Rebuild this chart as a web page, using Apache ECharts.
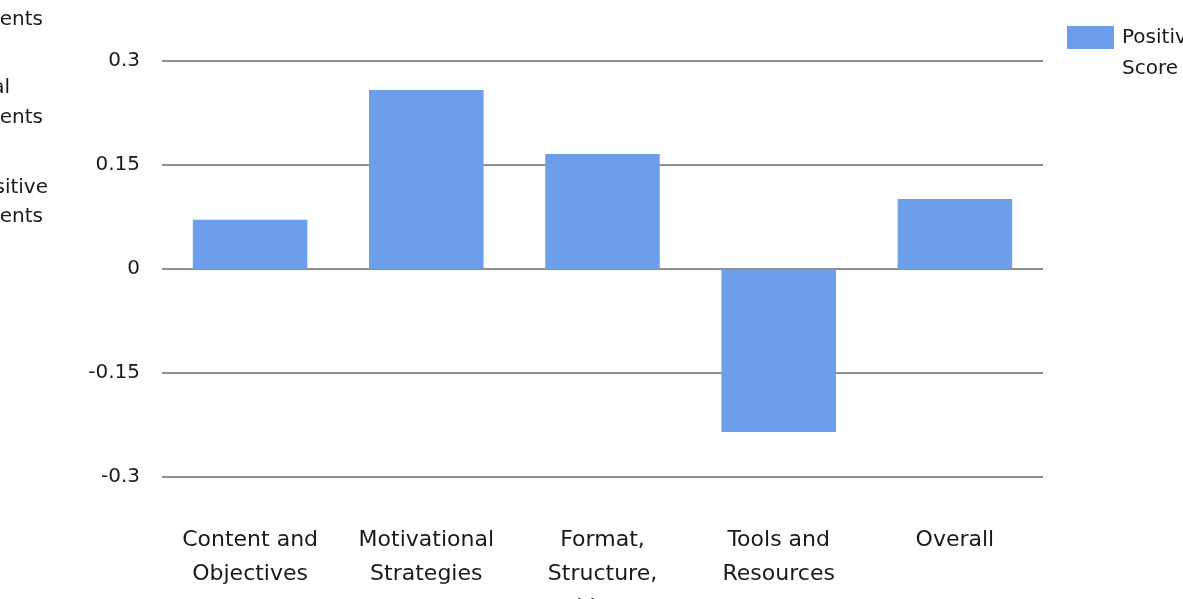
<!DOCTYPE html>
<html>
<head>
<meta charset="utf-8">
<style>
  html, body { margin: 0; padding: 0; background: #fff; }
  #chart { width: 1183px; height: 599px; }
</style>
</head>
<body>
<div id="chart"></div>
<script src="https://cdn.jsdelivr.net/npm/echarts@6/dist/echarts.min.js"></script>
<script>
    // data
    var categories = ['Content and\nObjectives', 'Motivational\nStrategies', 'Format,\nStructure,\nand Layout', 'Tools and\nResources', 'Overall'];
    var scores = [0.071, 0.258, 0.166, -0.235, 0.101];
    var seriesName = 'Positive\nScore';
    // clipped legend of a neighbouring chart on the left edge
    var leftLegendLines = ['Negative', 'Comments', 'Neutral', 'Comments', 'Positive', 'Comments'];

    var font = 'DejaVu Sans';
    var myChart = echarts.init(document.getElementById('chart'));

    var lineY = [-10, 20, 88, 118, 188, 217];
    var lineRight = [26, 43, 10, 43, 48, 43];
    var leftTexts = leftLegendLines.map(function (t, i) {
        return {
            type: 'text',
            x: lineRight[i],
            y: lineY[i],
            style: {
                text: t,
                align: 'right',
                verticalAlign: 'middle',
                fontFamily: font,
                fontSize: 20,
                fill: '#1a1a1a'
            }
        };
    });

    option = {
        animation: false,
        backgroundColor: '#fff',
        textStyle: { fontFamily: font },
        grid: {
            left: 162,
            right: 140,
            top: 61,
            bottom: 122,
            containLabel: false,
            outerBoundsMode: 'none'
        },
        legend: {
            left: 1062,
            top: -14,
            itemWidth: 47,
            itemHeight: 23,
            itemGap: 0,
            icon: 'rect',
            data: [seriesName],
            // leading empty line so the first text line sits level with the swatch
            formatter: function (name) {
                return '\n' + name;
            },
            textStyle: {
                fontFamily: font,
                fontSize: 20,
                color: '#1a1a1a',
                lineHeight: 31,
                padding: [0, 0, 0, 3]
            }
        },
        graphic: leftTexts,
        xAxis: {
            type: 'category',
            data: categories,
            axisLine: { show: false, onZero: false },
            axisTick: { show: false },
            axisLabel: {
                interval: 0,
                margin: 46,
                fontFamily: font,
                fontSize: 22,
                lineHeight: 34,
                color: '#1a1a1a'
            }
        },
        yAxis: {
            type: 'value',
            min: -0.3,
            max: 0.3,
            interval: 0.15,
            axisLine: { show: false },
            axisTick: { show: false },
            axisLabel: {
                margin: 22,
                fontFamily: font,
                fontSize: 20,
                color: '#1a1a1a'
            },
            splitLine: {
                lineStyle: { color: '#8f8f8f', width: 2 }
            }
        },
        series: [
            {
                name: seriesName,
                type: 'bar',
                barWidth: '65%',
                itemStyle: { color: '#6d9eeb' },
                data: scores
            }
        ]
    };
    myChart.setOption(option);
</script>
</body>
</html>
